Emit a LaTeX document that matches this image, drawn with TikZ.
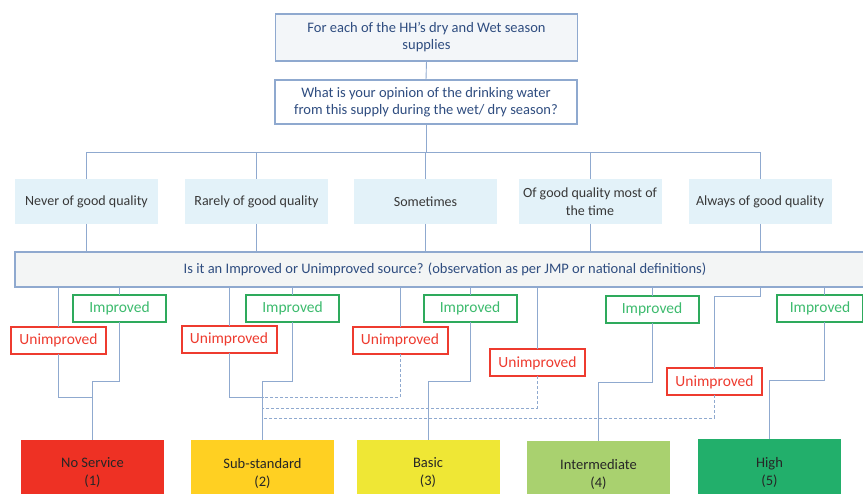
\documentclass[tikz,border=0pt]{standalone}
\usepackage{fontspec}
\setmainfont{Carlito}
\definecolor{ln}{HTML}{8FA9CF}
\definecolor{navy}{HTML}{2F4D80}
\definecolor{qfill}{HTML}{E3F2F9}
\definecolor{topfill}{HTML}{F3F6F9}
\definecolor{srcfill}{HTML}{F3F5F5}
\definecolor{gr}{HTML}{2EAA5C}
\definecolor{grt}{HTML}{3DBB6E}
\definecolor{rd}{HTML}{EE3B2F}
\definecolor{c1}{HTML}{EE3124}
\definecolor{c2}{HTML}{FFD022}
\definecolor{c3}{HTML}{EFE735}
\definecolor{c4}{HTML}{A9D16F}
\definecolor{c5}{HTML}{22AF6B}
\tikzset{
  every node/.style={inner sep=0pt, outer sep=0pt},
  topbox/.style={draw=ln, line width=1.4pt, fill=topfill, text=navy, align=center, font=\fontsize{14.5}{17}\selectfont},
  qbox/.style={fill=qfill, text=black!78, align=center, minimum width=143, minimum height=45, font=\fontsize{14}{18}\selectfont},
  impbox/.style={draw=gr, line width=2pt, fill=white, text=grt, minimum width=93, minimum height=27, font=\fontsize{15.5}{17}\selectfont},
  unbox/.style={draw=rd, line width=2pt, fill=white, text=rd, minimum width=95, minimum height=27, font=\fontsize{15.5}{17}\selectfont},
  resbox/.style={minimum width=143, minimum height=66, align=center, text=black!85, font=\fontsize{14.5}{18}\selectfont},
  conn/.style={draw=ln, line width=0.9pt},
  dconn/.style={draw=ln, line width=0.9pt, dash pattern=on 3pt off 2pt},
}
\begin{document}
\begin{tikzpicture}[x=1pt,y=-1pt]
\path[use as bounding box] (0,0) rectangle (863,494);
% top boxes
\node[topbox, minimum width=302, minimum height=47] (t1) at (426.5,37.5) {For each of the HH’s dry and Wet season\\supplies};
\node[topbox, fill=white, minimum width=302, minimum height=44] (t2) at (426,102) {What is your opinion of the drinking water\\from this supply during the wet/ dry season?};
\draw[conn] (t1.south) -- (t2.north);
% quality boxes
\node[qbox] (q1) at (86.5,201.5) {Never of good quality};
\node[qbox] (q2) at (256.5,201.5) {Rarely of good quality};
\node[qbox] (q3) at (425.5,201.5) {Sometimes};
\node[qbox] (q4) at (590,201.5) {Of good quality most of\\the time};
\node[qbox] (q5) at (760,201.5) {Always of good quality};
\foreach \q in {q1,q2,q3,q4,q5}{
  \draw[conn] (t2.south) -- ++(0,28) -| (\q.north);
}
% source box
\node[draw=ln, line width=1.2pt, fill=srcfill, text=navy, minimum width=860, minimum height=35, font=\fontsize{14.5}{17}\selectfont] (src) at (445,269.5) {Is it an Improved or Unimproved source? (observation as per JMP or national definitions)};
\foreach \q in {q1,q2,q3,q4,q5}{
  \draw[conn] (\q.south) -- (\q.south |- src.north);
}
% result boxes
\node[resbox, fill=c1] (b1) at (92.5,473) {No Service\\(1)};
\node[resbox, fill=c2] (b2) at (262.5,473) {Sub-standard\\(2)};
\node[resbox, fill=c3] (b3) at (428,473) {Basic\\(3)};
\node[resbox, fill=c4] (b4) at (598.5,474) {Intermediate\\(4)};
\node[resbox, fill=c5] (b5) at (769.5,472) {High\\(5)};
% group 1
\node[impbox] (i1) at (119.5,308.5) {Improved};
\node[unbox] (u1) at (58.5,340.5) {Unimproved};
\draw[conn] (src.south -| i1.north) -- (i1.north);
\draw[conn] (src.south -| u1.north) -- (u1.north);
\draw[conn] (i1.south) -- ++(0,59) -| (b1.north);
\draw[conn] (u1.south) |- (b1.north |- 0,397);
% group 2
\node[impbox] (i2) at (292.5,308.5) {Improved};
\node[unbox] (u2) at (229,339.5) {Unimproved};
\draw[conn] (src.south -| i2.north) -- (i2.north);
\draw[conn] (src.south -| u2.north) -- (u2.north);
\draw[conn] (i2.south) -- ++(0,59) -| (b2.north);
\draw[conn] (u2.south) |- (b2.north |- 0,397);
% group 3
\node[impbox] (i3) at (470,308.5) {Improved};
\node[unbox] (u3) at (400,340.5) {Unimproved};
\draw[conn] (src.south -| i3.north) -- (i3.north);
\draw[conn] (src.south -| u3.north) -- (u3.north);
\draw[conn] (i3.south) -- ++(0,59) -| (b3.north);
\draw[dconn] (u3.south) |- (b2.north |- 0,397);
% group 4
\node[impbox] (i4) at (652,309.5) {Improved};
\node[unbox] (u4) at (537.5,363) {Unimproved};
\draw[conn] (src.south -| i4.north) -- (i4.north);
\draw[conn] (src.south -| u4.north) -- (u4.north);
\draw[conn] (i4.south) -- ++(0,59) -| (b4.north);
\draw[dconn] (u4.south) |- (b2.north |- 0,408);
% group 5
\node[impbox, minimum width=86] (i5) at (820,308.5) {Improved};
\node[unbox] (u5) at (714.5,382) {Unimproved};
\draw[conn] (src.south -| 824,0) -- ([xshift=4]i5.north);
\draw[conn] (src.south -| 760,0) -- (760,296) -| (u5.north);
\draw[conn] ([xshift=4]i5.south) -- ++(0,58) -| (b5.north);
\draw[dconn] (u5.south) |- (b2.north |- 0,418);
\end{tikzpicture}
\end{document}
